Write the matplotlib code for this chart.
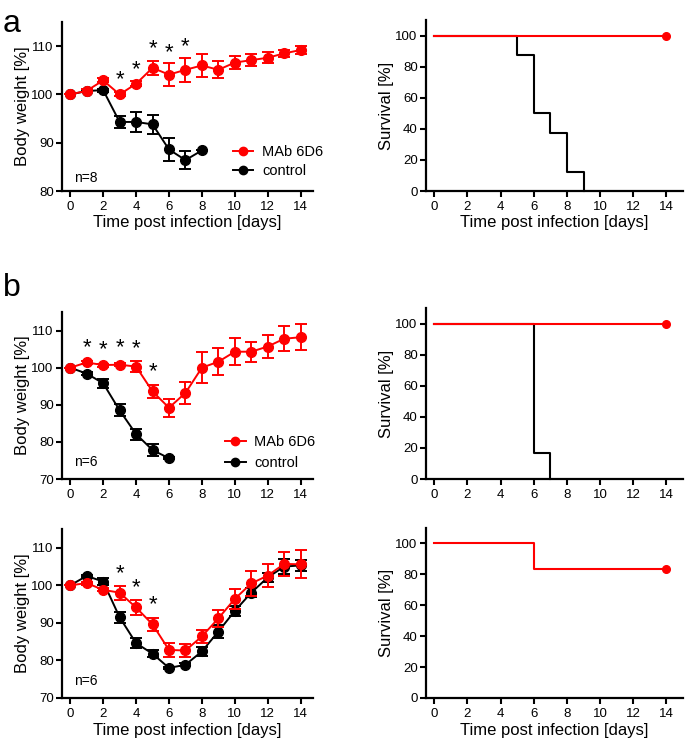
import matplotlib
matplotlib.use("Agg")
import matplotlib.pyplot as plt
from matplotlib.lines import Line2D
import numpy as np

plt.rcParams['font.family'] = ['Liberation Sans', 'DejaVu Sans']

days = list(range(15))
xticks = [0, 2, 4, 6, 8, 10, 12, 14]

# ---- Panel a: body weight ----
a_red = [100.0, 100.75, 102.9, 100.0, 102.2, 105.5, 104.1, 105.1, 106.0, 105.1, 106.6, 107.1, 107.6, 108.5, 109.2]
a_red_err = [0.0, 0.3, 0.4, 0.4, 0.5, 1.45, 2.4, 2.5, 2.4, 1.8, 1.4, 1.3, 1.15, 0.8, 0.75]
a_blk_days = [0, 1, 2, 3, 4, 5, 6, 7, 8]
a_blk = [100.0, 100.7, 100.9, 94.3, 94.3, 93.8, 88.6, 86.4, 88.4]
a_blk_err = [0.0, 0.3, 0.3, 1.2, 2.0, 1.9, 2.4, 1.8, 0.0]
a_star_days = [3, 4, 5, 6, 7]
a_star_y = [103.0, 105.1, 109.4, 108.6, 109.9]

# ---- Panel a: survival ----
a_surv_red_t = [0, 14]
a_surv_red = [100, 100]
a_surv_blk_t = [0, 5, 6, 7, 8, 9]
a_surv_blk = [100, 87.5, 50, 37.5, 12.5, 0]

# ---- Panel b top: body weight ----
b1_red = [100.0, 101.4, 100.7, 100.8, 100.3, 93.6, 89.2, 93.2, 100.0, 101.6, 104.3, 104.3, 105.7, 107.8, 108.2]
b1_red_err = [0.0, 0.4, 0.4, 0.4, 1.6, 1.8, 2.4, 2.9, 4.1, 3.6, 3.6, 2.7, 3.1, 3.4, 3.5]
b1_blk_days = [0, 1, 2, 3, 4, 5, 6]
b1_blk = [100.0, 98.4, 95.8, 88.5, 82.1, 77.8, 75.6]
b1_blk_err = [0.0, 0.4, 1.2, 1.6, 1.5, 1.6, 0.3]
b1_star_days = [1, 2, 3, 4, 5]
b1_star_y = [105.4, 104.9, 105.4, 105.2, 99.0]

b1_surv_red_t = [0, 14]
b1_surv_red = [100, 100]
b1_surv_blk_t = [0, 6, 7]
b1_surv_blk = [100, 16.67, 0]

# ---- Panel b bottom: body weight ----
b2_red = [100.0, 100.6, 98.8, 98.05, 94.1, 89.6, 82.8, 82.65, 86.4, 91.2, 96.4, 100.5, 102.6, 105.7, 105.6]
b2_red_err = [0.0, 0.4, 0.4, 1.9, 1.9, 1.7, 1.8, 1.7, 1.8, 2.2, 2.6, 3.3, 3.1, 3.3, 3.7]
b2_blk = [100.0, 102.5, 101.0, 91.5, 84.6, 81.8, 78.0, 78.85, 82.4, 87.7, 93.2, 98.05, 102.1, 105.0, 105.3]
b2_blk_err = [0.0, 0.3, 0.9, 1.5, 1.3, 1.0, 0.3, 0.4, 1.2, 1.8, 1.3, 1.2, 1.2, 1.9, 1.4]
b2_star_days = [3, 4, 5]
b2_star_y = [103.2, 99.3, 94.8]

b2_surv_red_t = [0, 6, 14]
b2_surv_red = [100, 83.33, 83.33]

RED = '#ff0000'
BLK = '#000000'

W, H = 685, 743
fig = plt.figure(figsize=(W / 100, H / 100), dpi=100)


def add_ax(x0, y0, x1, y1):
    return fig.add_axes([x0 / W, 1 - y1 / H, (x1 - x0) / W, (y1 - y0) / H])


def style(ax, ylim, yticks, xlabel=True, ylabel=''):
    for s in ['top', 'right']:
        ax.spines[s].set_visible(False)
    for s in ['left', 'bottom']:
        ax.spines[s].set_linewidth(1.6)
    ax.set_xlim(-0.5, 14.75)
    ax.set_ylim(*ylim)
    ax.set_xticks(xticks)
    ax.set_yticks(yticks)
    ax.tick_params(direction='out', length=4, width=1.5, labelsize=9.5, pad=2, colors='black')
    ax.tick_params(axis='x', pad=3)
    if xlabel:
        ax.set_xlabel('Time post infection [days]', fontsize=12, labelpad=2)
    ax.set_ylabel(ylabel, fontsize=12, labelpad=1)


def weight_plot(ax, red, red_err, bdays, blk, blk_err, sdays, sy, ylim, yticks, ntext, ny,
                legend_anchor, xlabel):
    ax.errorbar(bdays, blk, yerr=blk_err, color=BLK, marker='o', markersize=7, lw=1.4,
                elinewidth=1.4, capsize=4, capthick=1.4, zorder=3)
    ax.errorbar(days, red, yerr=red_err, color=RED, marker='o', markersize=7, lw=1.4,
                elinewidth=1.4, capsize=4, capthick=1.4, zorder=4)
    for d, y in zip(sdays, sy):
        ax.text(d, y, '*', ha='center', va='center', fontsize=16, color='black')
    ax.text(0.25, ny, ntext, fontsize=10, ha='left', va='center')
    if legend_anchor is not None:
        anchor, spacing = legend_anchor
        handles = [Line2D([], [], color=RED, marker='o', markersize=6, lw=1.4),
                   Line2D([], [], color=BLK, marker='o', markersize=6, lw=1.4)]
        ax.legend(handles, ['MAb 6D6', 'control'], loc='upper left', bbox_to_anchor=anchor,
                  frameon=False, fontsize=10.5, handlelength=1.4, handletextpad=0.6,
                  labelspacing=spacing, borderpad=0, borderaxespad=0)
    style(ax, ylim, yticks, xlabel, 'Body weight [%]')


def surv_plot(ax, series, xlabel):
    for t, v, c in series:
        ax.step(t, v, where='post', color=c, lw=1.5, zorder=3 if c == BLK else 4, clip_on=False)
    t, v, c = series[-1]
    ax.plot([t[-1]], [v[-1]], 'o', color=RED, markersize=5.5, zorder=5, clip_on=False)
    style(ax, (0, 110), [0, 20, 40, 60, 80, 100], xlabel, 'Survival [%]')
    ax.set_xlim(-0.5, 15.0)


# Panel a
ax1 = add_ax(62, 22, 313, 191)
weight_plot(ax1, a_red, a_red_err, a_blk_days, a_blk, a_blk_err, a_star_days, a_star_y,
            (80, 115), [80, 90, 100, 110], 'n=8', 82.6, ((0.681, 0.272), 0.32), True)
ax2 = add_ax(426, 20, 683, 191)
surv_plot(ax2, [(a_surv_blk_t, a_surv_blk, BLK), (a_surv_red_t, a_surv_red, RED)], True)

# Panel b top
ax3 = add_ax(62, 312, 313, 479)
weight_plot(ax3, b1_red, b1_red_err, b1_blk_days, b1_blk, b1_blk_err, b1_star_days, b1_star_y,
            (70, 115), [70, 80, 90, 100, 110], 'n=6', 74.5, ((0.65, 0.262), 0.45), False)
ax4 = add_ax(426, 308, 683, 479)
surv_plot(ax4, [(b1_surv_blk_t, b1_surv_blk, BLK), (b1_surv_red_t, b1_surv_red, RED)], False)

# Panel b bottom
ax5 = add_ax(62, 529, 313, 698)
weight_plot(ax5, b2_red, b2_red_err, days, b2_blk, b2_blk_err, b2_star_days, b2_star_y,
            (70, 115), [70, 80, 90, 100, 110], 'n=6', 74.5, None, True)
ax6 = add_ax(426, 528, 683, 698)
surv_plot(ax6, [(b2_surv_red_t, b2_surv_red, RED)], True)

fig.text(3 / W, 1 - 24 / H, 'a', fontsize=23, ha='left', va='center')
fig.text(3 / W, 1 - 288 / H, 'b', fontsize=23, ha='left', va='center')

fig.savefig('out.png', dpi=100)
